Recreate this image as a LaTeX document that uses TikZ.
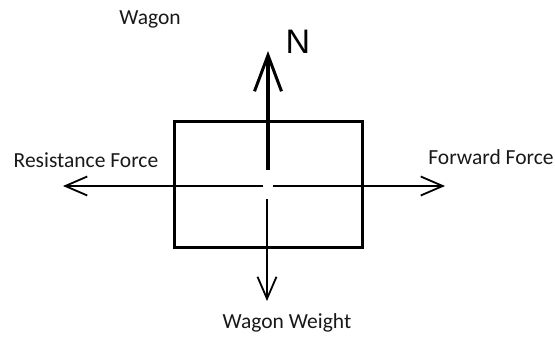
\documentclass[tikz,border=0pt]{standalone}
\usepackage{fontspec}
\setmainfont{Carlito}
\newfontfamily\nfont{Liberation Sans}
\usetikzlibrary{arrows.meta}
\begin{document}
\begin{tikzpicture}[x=1pt,y=-1pt,
  lbl/.style={font=\fontsize{21.5}{25}\selectfont, text=black!90, inner sep=0pt},
  thinarrow/.style={line width=1.8pt, -{Straight Barb[length=22pt,width=19pt,line width=1.8pt]}},
  thickarrow/.style={line width=4pt, -{Straight Barb[length=36pt,width=27pt,line width=3pt]}}]
\useasboundingbox (0,0) rectangle (555,337);
\node[draw, line width=3pt, minimum width=188pt, minimum height=125pt, inner sep=0pt] (box) at (268,184.5) {};
\coordinate (c) at (268,186);
\coordinate (lstart) at (263,186);
\coordinate (rstart) at (273,186);
\coordinate (ltip) at (63,186);
\coordinate (rtip) at (445,186);
\coordinate (ustart) at (268,170);
\coordinate (utip) at (268,51);
\coordinate (dstart) at (267,199);
\coordinate (dtip) at (267,301);
\draw[thinarrow] (lstart) -- (ltip);
\draw[thinarrow] (rstart) -- (rtip);
\draw[thickarrow] (ustart) -- (utip);
\draw[thinarrow] (dstart) -- (dtip);
\node[lbl] (wagon) at (150,19) {Wagon};
\node[lbl] (resist) at (86,160) {Resistance Force};
\node[lbl] (forward) at (491,157) {Forward Force};
\node[lbl] (weight) at (287,323) {Wagon Weight};
\node[inner sep=0pt, font=\nfont\fontsize{34}{36}\selectfont] (N) at (298,42) {N};
\end{tikzpicture}
\end{document}
